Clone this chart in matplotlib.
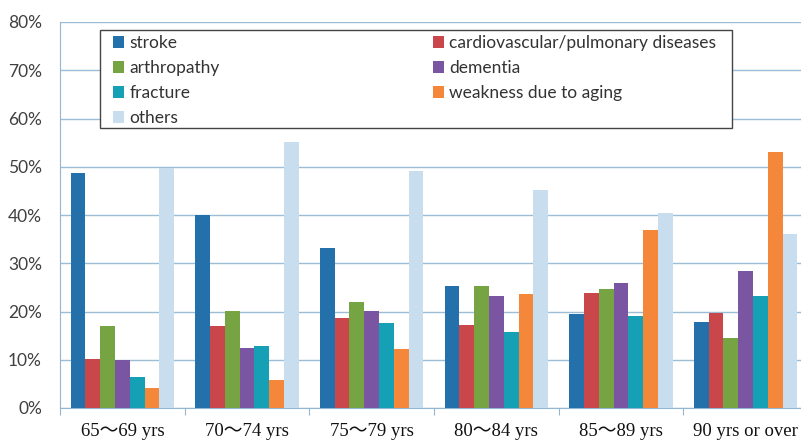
import matplotlib
matplotlib.use("Agg")
import matplotlib.pyplot as plt
import numpy as np
from matplotlib.patches import Patch, Rectangle

categories = ["65～69 yrs", "70～74 yrs", "75～79 yrs", "80～84 yrs", "85～89 yrs", "90 yrs or over"]
series_names = ["stroke", "cardiovascular/pulmonary diseases", "arthropathy", "dementia",
                "fracture", "weakness due to aging", "others"]
stroke = [48.8, 40.0, 33.1, 25.3, 19.5, 17.8]
cardio = [10.2, 16.9, 18.6, 17.2, 23.8, 19.6]
arthropathy = [16.9, 20.2, 22.0, 25.3, 24.6, 14.6]
dementia = [9.9, 12.5, 20.2, 23.2, 25.9, 28.4]
fracture = [6.5, 12.9, 17.6, 15.8, 19.1, 23.2]
weakness = [4.1, 5.9, 12.3, 23.7, 36.9, 53.1]
others = [49.7, 55.1, 49.1, 45.2, 40.4, 36.0]
yticks = [0, 10, 20, 30, 40, 50, 60, 70, 80]

values = [stroke, cardio, arthropathy, dementia, fracture, weakness, others]
colors = ["#2470AB", "#C9474A", "#76A443", "#7A56A2", "#15A0B6", "#F5873A", "#C8DEEE"]

W, H = 801, 441
fig = plt.figure(figsize=(W/100, H/100), dpi=100)
ax = fig.add_axes([60/W, 33/H, 748/W, 386/H])

n = len(series_names)
group_w = 0.83
bw = group_w / n
x = np.arange(len(categories))
handles = {}
for i, (name, vals, c) in enumerate(zip(series_names, values, colors)):
    pos = x - group_w/2 + bw*(i + 0.5)
    ax.bar(pos, vals, width=bw, color=c, edgecolor="none", zorder=3)
    handles[name] = Patch(facecolor=c, edgecolor="none")

ax.set_xlim(-0.5, len(categories) - 0.5)
ax.set_ylim(0, 80)
ax.set_yticks(yticks)
ax.set_yticklabels([f"{v}%" for v in yticks], fontsize=12.5, color="#404040",
                   family=["Lato", "DejaVu Sans"])
ax.yaxis.grid(True, color="#9DBDD6", linewidth=1.0, zorder=0)
ax.tick_params(axis="y", length=0, pad=13)

ax.set_xticks(np.arange(len(categories) + 1) - 0.5, minor=False)
ax.set_xticklabels([])
ax.set_xticks(x, minor=True)
ax.set_xticklabels(categories, minor=True, fontsize=13.5,
                   family=["Liberation Serif", "Noto Sans CJK JP"], color="#111111")
ax.tick_params(axis="x", which="major", length=5, color="#93B6D2", direction="out")
ax.tick_params(axis="x", which="minor", length=0, pad=11)

for s in ["top", "right"]:
    ax.spines[s].set_visible(False)
ax.spines["left"].set_color("#93B6D2")
ax.spines["bottom"].set_color("#93B6D2")

# legend frame
fig.patches.append(Rectangle((100/W, 1 - 128/H), 632/W, 98/H, transform=fig.transFigure,
                             facecolor="white", edgecolor="#444444", linewidth=1.0, zorder=5))

order = ["stroke", "arthropathy", "fracture", "others",
         "cardiovascular/pulmonary diseases", "dementia", "weakness due to aging"]
hl = [handles[k] for k in order]
hl.append(Patch(facecolor="none", edgecolor="none"))
labels = order + [""]
leg = fig.legend(hl, labels, loc="upper left", ncol=2,
                 bbox_to_anchor=(113/W, 1 - 127/H, 603/W, 92/H),
                 mode="expand", frameon=False,
                 prop={"family": ["Lato", "DejaVu Sans"], "size": 12.5},
                 handlelength=0.65, handleheight=0.65, handletextpad=0.3,
                 labelspacing=0.52, borderaxespad=0, borderpad=0)
leg.set_zorder(6)
for t in leg.get_texts():
    t.set_color("#333333")

fig.savefig("out.png", dpi=100)
